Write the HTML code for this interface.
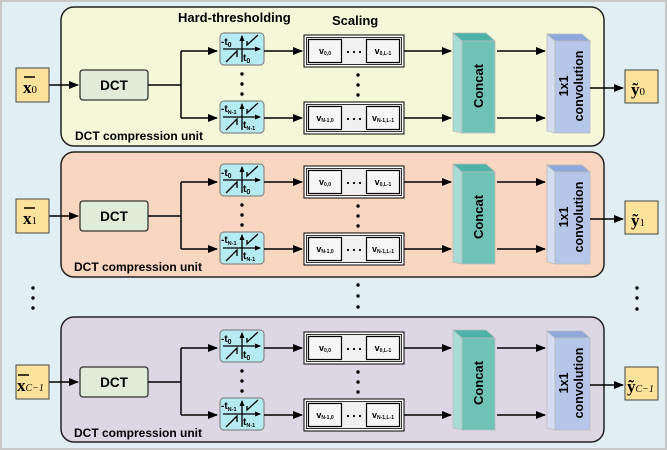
<!DOCTYPE html>
<html><head><meta charset="utf-8"><style>
html,body{margin:0;padding:0;background:#fff}
svg{display:block}
text{font-family:"Liberation Sans",sans-serif;font-weight:bold}
.s{font-family:"Liberation Serif",serif;font-weight:bold}
</style></head><body>
<svg width="667" height="450" viewBox="0 0 667 450" xmlns="http://www.w3.org/2000/svg">
<defs>
<marker id="a" markerWidth="10" markerHeight="8" refX="9" refY="4" orient="auto" markerUnits="userSpaceOnUse"><path d="M0,0 L10,4 L0,8 z" fill="#000"/></marker>
<marker id="b" markerWidth="6" markerHeight="5" refX="5" refY="2.5" orient="auto" markerUnits="userSpaceOnUse"><path d="M0,0 L6,2.5 L0,5 z" fill="#000"/></marker>
<g id="th">
<rect x="0" y="0" width="44" height="32" rx="4" fill="#b5ecf4" stroke="#888" stroke-width="1.2"/>
<line x1="3" y1="16" x2="40" y2="16" stroke="#000" stroke-width="1.3" marker-end="url(#b)"/>
<line x1="22" y1="29" x2="22" y2="3" stroke="#000" stroke-width="1.3" marker-end="url(#b)"/>
<path d="M6,29 L17,18 L17,24" fill="none" stroke="#000" stroke-width="1.3"/>
<path d="M27,8 L27,12 L38,2" fill="none" stroke="#000" stroke-width="1.3"/>
</g>
<g id="sc">
<rect x="0" y="0" width="100" height="32" fill="#fff" stroke="#000" stroke-width="1"/>
<rect x="2.5" y="2.5" width="95" height="27" fill="#f0f0f0" stroke="#000" stroke-width="0.8"/>
<rect x="4.5" y="4.5" width="33" height="23" fill="#f6f6f6" stroke="#000" stroke-width="1.2"/>
<rect x="62.5" y="4.5" width="33" height="23" fill="#f6f6f6" stroke="#000" stroke-width="1.2"/>
<circle cx="44" cy="17" r="1.1"/><circle cx="50" cy="17" r="1.1"/><circle cx="56" cy="17" r="1.1"/>
</g>
<g id="row">
<line x1="49" y1="0" x2="78" y2="0" stroke="#000" stroke-width="1.5" marker-end="url(#a)"/>
<rect x="80" y="-15" width="68" height="30" rx="3" fill="#e0ebd8" stroke="#333" stroke-width="1.3"/>
<path d="M148,0 H181 M181,-34 V33" stroke="#000" stroke-width="1.5" fill="none"/>
<line x1="181" y1="-34" x2="217" y2="-34" stroke="#000" stroke-width="1.5" marker-end="url(#a)"/>
<line x1="181" y1="33" x2="217" y2="33" stroke="#000" stroke-width="1.5" marker-end="url(#a)"/>
<use href="#th" x="220" y="-52"/>
<use href="#th" x="220" y="16"/>
<line x1="264" y1="-34" x2="302" y2="-34" stroke="#000" stroke-width="1.5" marker-end="url(#a)"/>
<line x1="264" y1="33" x2="302" y2="33" stroke="#000" stroke-width="1.5" marker-end="url(#a)"/>
<use href="#sc" x="304" y="-50"/>
<use href="#sc" x="304" y="17"/>
<circle cx="242" cy="-11" r="1.7"/><circle cx="242" cy="-1" r="1.7"/><circle cx="242" cy="9" r="1.7"/>
<circle cx="358" cy="-10" r="1.7"/><circle cx="358" cy="0" r="1.7"/><circle cx="358" cy="10" r="1.7"/>
<line x1="404" y1="-34" x2="451" y2="-34" stroke="#000" stroke-width="1.5" marker-end="url(#a)"/>
<line x1="404" y1="33" x2="451" y2="33" stroke="#000" stroke-width="1.5" marker-end="url(#a)"/>
<polygon points="453,-52 462,-44 462,48 453,46" fill="#a9dcd6" stroke="#bbb" stroke-width="0.8"/>
<polygon points="453,-52 486,-52 495,-44 462,-44" fill="#4db3a6" stroke="#bbb" stroke-width="0.8"/>
<rect x="462" y="-44" width="33" height="92" fill="#6fc3b6" stroke="#bbb" stroke-width="0.8"/>
<line x1="497" y1="-34" x2="545" y2="-34" stroke="#000" stroke-width="1.5" marker-end="url(#a)"/>
<line x1="497" y1="33" x2="545" y2="33" stroke="#000" stroke-width="1.5" marker-end="url(#a)"/>
<polygon points="547,-51 555,-44 555,48 547,46" fill="#d5ddf0" stroke="#bbb" stroke-width="0.8"/>
<polygon points="547,-51 582,-51 590,-44 555,-44" fill="#8ea8dc" stroke="#bbb" stroke-width="0.8"/>
<rect x="555" y="-44" width="35" height="92" fill="#b5c6e8" stroke="#bbb" stroke-width="0.8"/>
<line x1="590" y1="3" x2="623" y2="3" stroke="#000" stroke-width="1.5" marker-end="url(#a)"/>
</g>
</defs>
<rect x="1" y="1" width="665" height="448" fill="#e1eff5" stroke="#c8c8c8" stroke-width="2"/>
<rect x="61" y="7" width="543" height="139" rx="13" fill="#f4f8d8" stroke="#222" stroke-width="1.5"/>
<rect x="61" y="152" width="543" height="125" rx="13" fill="#f8d6bf" stroke="#222" stroke-width="1.5"/>
<rect x="61" y="317" width="543" height="125" rx="13" fill="#ddd6e5" stroke="#222" stroke-width="1.5"/>

<text x="178" y="22" font-size="13">Hard-thresholding</text>
<text x="332" y="25" font-size="13">Scaling</text>

<g transform="translate(0,85)">
<use href="#row"/>
<rect x="16" y="-17" width="33" height="34" fill="#fde29c" stroke="#444" stroke-width="1"/>
<text x="114" y="5" font-size="13.5" text-anchor="middle">DCT</text>
<rect x="625" y="-15" width="33" height="33" fill="#fde29c" stroke="#444" stroke-width="1"/>
</g>
<g transform="translate(0,216)">
<use href="#row"/>
<rect x="16" y="-17" width="33" height="34" fill="#fde29c" stroke="#444" stroke-width="1"/>
<text x="114" y="5" font-size="13.5" text-anchor="middle">DCT</text>
<rect x="625" y="-15" width="33" height="33" fill="#fde29c" stroke="#444" stroke-width="1"/>
</g>
<g transform="translate(0,382)">
<use href="#row"/>
<rect x="16" y="-17" width="33" height="34" fill="#fde29c" stroke="#444" stroke-width="1"/>
<text x="114" y="5" font-size="13.5" text-anchor="middle">DCT</text>
<rect x="625" y="-15" width="33" height="33" fill="#fde29c" stroke="#444" stroke-width="1"/>
</g>

<g font-size="10">
<text x="221" y="45">-t<tspan font-size="7" dy="2">0</tspan></text>
<text x="243" y="61">t<tspan font-size="7" dy="2">0</tspan></text>
<text x="221" y="112">-t<tspan font-size="5.5" dy="2">N-1</tspan></text>
<text x="243" y="128">t<tspan font-size="5.5" dy="2">N-1</tspan></text>
<text x="221" y="176">-t<tspan font-size="7" dy="2">0</tspan></text>
<text x="243" y="192">t<tspan font-size="7" dy="2">0</tspan></text>
<text x="221" y="243">-t<tspan font-size="5.5" dy="2">N-1</tspan></text>
<text x="243" y="259">t<tspan font-size="5.5" dy="2">N-1</tspan></text>
<text x="221" y="342">-t<tspan font-size="7" dy="2">0</tspan></text>
<text x="243" y="358">t<tspan font-size="7" dy="2">0</tspan></text>
<text x="221" y="409">-t<tspan font-size="5.5" dy="2">N-1</tspan></text>
<text x="243" y="425">t<tspan font-size="5.5" dy="2">N-1</tspan></text>
</g>
<g font-size="9" text-anchor="middle">
<text x="325" y="54">v<tspan font-size="5" dy="1">0,0</tspan></text>
<text x="383" y="54">v<tspan font-size="5" dy="1">0,L-1</tspan></text>
<text x="325" y="121">v<tspan font-size="5" dy="1">N-1,0</tspan></text>
<text x="383" y="121">v<tspan font-size="5" dy="1">N-1,L-1</tspan></text>
<text x="325" y="185">v<tspan font-size="5" dy="1">0,0</tspan></text>
<text x="383" y="185">v<tspan font-size="5" dy="1">0,L-1</tspan></text>
<text x="325" y="252">v<tspan font-size="5" dy="1">N-1,0</tspan></text>
<text x="383" y="252">v<tspan font-size="5" dy="1">N-1,L-1</tspan></text>
<text x="325" y="351">v<tspan font-size="5" dy="1">0,0</tspan></text>
<text x="383" y="351">v<tspan font-size="5" dy="1">0,L-1</tspan></text>
<text x="325" y="418">v<tspan font-size="5" dy="1">N-1,0</tspan></text>
<text x="383" y="418">v<tspan font-size="5" dy="1">N-1,L-1</tspan></text>
</g>
<g font-size="13">
<text transform="translate(483,86) rotate(-90)" text-anchor="middle">Concat</text>
<text transform="translate(572,86) rotate(-90)" text-anchor="middle" font-size="12.5"><tspan x="0" dy="-4">1x1</tspan><tspan x="0" dy="15">convolution</tspan></text>
<text transform="translate(483,217) rotate(-90)" text-anchor="middle">Concat</text>
<text transform="translate(572,217) rotate(-90)" text-anchor="middle" font-size="12.5"><tspan x="0" dy="-4">1x1</tspan><tspan x="0" dy="15">convolution</tspan></text>
<text transform="translate(483,383) rotate(-90)" text-anchor="middle">Concat</text>
<text transform="translate(572,383) rotate(-90)" text-anchor="middle" font-size="12.5"><tspan x="0" dy="-4">1x1</tspan><tspan x="0" dy="15">convolution</tspan></text>
</g>
<g font-size="12">
<text x="75" y="140">DCT compression unit</text>
<text x="74" y="271">DCT compression unit</text>
<text x="74" y="437">DCT compression unit</text>
</g>
<g class="s">
<text x="23" y="93" font-size="17" class="s">x<tspan font-size="11" font-weight="normal">0</tspan></text>
<line x1="24" y1="77" x2="35" y2="77" stroke="#000" stroke-width="1.5"/>
<text x="23" y="224" font-size="17" class="s">x<tspan font-size="11" font-weight="normal">1</tspan></text>
<line x1="24" y1="208" x2="35" y2="208" stroke="#000" stroke-width="1.5"/>
<text x="17" y="391" font-size="17" class="s">x<tspan font-size="10" font-weight="normal" font-style="italic">C−1</tspan></text>
<line x1="18" y1="375" x2="29" y2="375" stroke="#000" stroke-width="1.5"/>
<text x="631" y="95" font-size="17" class="s">ỹ<tspan font-size="11" font-weight="normal">0</tspan></text>
<text x="631" y="226" font-size="17" class="s">ỹ<tspan font-size="11" font-weight="normal">1</tspan></text>
<text x="627" y="392" font-size="17" class="s">ỹ<tspan font-size="10" font-weight="normal" font-style="italic">C−1</tspan></text>
</g>
<g fill="#000">
<circle cx="33" cy="288" r="1.7"/><circle cx="33" cy="298" r="1.7"/><circle cx="33" cy="308" r="1.7"/>
<circle cx="358" cy="285" r="1.7"/><circle cx="358" cy="296" r="1.7"/><circle cx="358" cy="307" r="1.7"/>
<circle cx="637" cy="288" r="1.7"/><circle cx="637" cy="298" r="1.7"/><circle cx="637" cy="309" r="1.7"/>
</g>
</svg>
</body></html>
